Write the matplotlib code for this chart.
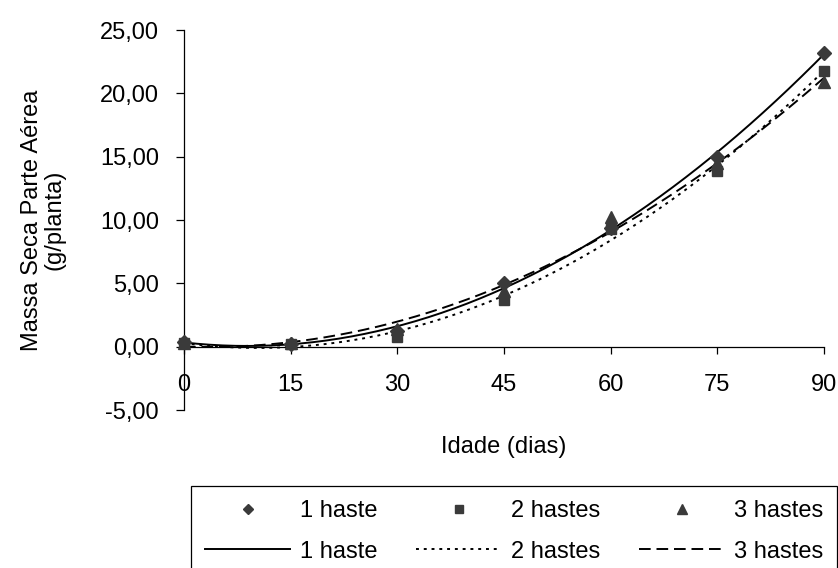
'''
    Massa seca da parte aerea vs idade, 1/2/3 hastes
'''

import numpy as np
import matplotlib
matplotlib.use('Agg')
import matplotlib.pyplot as plt
from matplotlib.ticker import FuncFormatter

plt.rcParams['font.family'] = ['Liberation Sans', 'DejaVu Sans']

# data
idade = [0, 15, 30, 45, 60, 75, 90]
haste_1 = [0.4, 0.2, 1.2, 5.0, 9.4, 15.0, 23.2]
hastes_2 = [0.3, 0.2, 0.8, 3.7, 9.3, 13.9, 21.8]
hastes_3 = [0.3, 0.3, 1.4, 4.4, 10.2, 14.5, 20.9]
labels = ['1 haste', '2 hastes', '3 hastes']

y_ticks = [-5, 0, 5, 10, 15, 20, 25]
x_ticks = [0, 15, 30, 45, 60, 75, 90]

FS = 17
mk_color = '#3a3a3a'


def trend(x, y):
    # quadratic trend line like the spreadsheet one
    coef = np.polyfit(x, y, 2)
    xs = np.linspace(min(x), max(x), 200)
    return xs, np.polyval(coef, xs)


if __name__ == "__main__":
    fig = plt.figure(figsize=(8.38, 5.68), dpi=100)
    ax = fig.add_axes([184/838, 1 - 410/568, 640/838, 380/568])

    series = [haste_1, hastes_2, hastes_3]
    markers = [('D', 7), ('s', 6.5), ('^', 8.5)]
    styles = ['-', (0, (1.5, 2.5)), (0, (6, 3))]

    pts, curves = [], []
    for y, (m, ms), ls, lab in zip(series, markers, styles, labels):
        p, = ax.plot(idade, y, linestyle='none', marker=m, markersize=ms,
                     color=mk_color, label=lab, clip_on=False, zorder=3)
        xs, ys = trend(idade, y)
        c, = ax.plot(xs, ys, linestyle=ls, color='black', linewidth=1.4,
                     label=lab, zorder=2)
        pts.append(p)
        curves.append(c)

    ax.set_xlim(0, 90)
    ax.set_ylim(-5, 25)
    ax.set_xticks(x_ticks)
    ax.set_yticks(y_ticks)
    ax.yaxis.set_major_formatter(FuncFormatter(lambda v, p: f'{v:.2f}'.replace('.', ',')))

    ax.spines['top'].set_visible(False)
    ax.spines['right'].set_visible(False)
    ax.spines['bottom'].set_position(('data', 0))
    for s in ['left', 'bottom']:
        ax.spines[s].set_linewidth(0.9)

    ax.tick_params(axis='x', direction='out', length=5, width=0.9, pad=15, labelsize=FS)
    ax.tick_params(axis='y', direction='out', length=6, width=0.9, pad=12, labelsize=FS)

    ax.set_xlabel('Idade (dias)', fontsize=FS)
    ax.xaxis.set_label_coords(0.5, -0.068)
    ax.set_ylabel('Massa Seca Parte Aérea\n(g/planta)', fontsize=FS, linespacing=1.05)
    ax.yaxis.set_label_coords(-0.185, 0.5)

    handles = [pts[0], curves[0], pts[1], curves[1], pts[2], curves[2]]
    leg_labels = [labels[0], labels[0], labels[1], labels[1], labels[2], labels[2]]
    leg = fig.legend(handles, leg_labels, ncol=3, loc='upper left',
                     bbox_to_anchor=(191/838, 1 - 486/568, 646/838, 0),
                     mode='expand', borderaxespad=0, fontsize=FS,
                     handlelength=3.6, handletextpad=0.4, labelspacing=0.78,
                     borderpad=0.6, markerscale=0.8, fancybox=False,
                     framealpha=1, edgecolor='black')
    leg.get_frame().set_linewidth(0.9)

    fig.savefig('out.png', dpi=100)
